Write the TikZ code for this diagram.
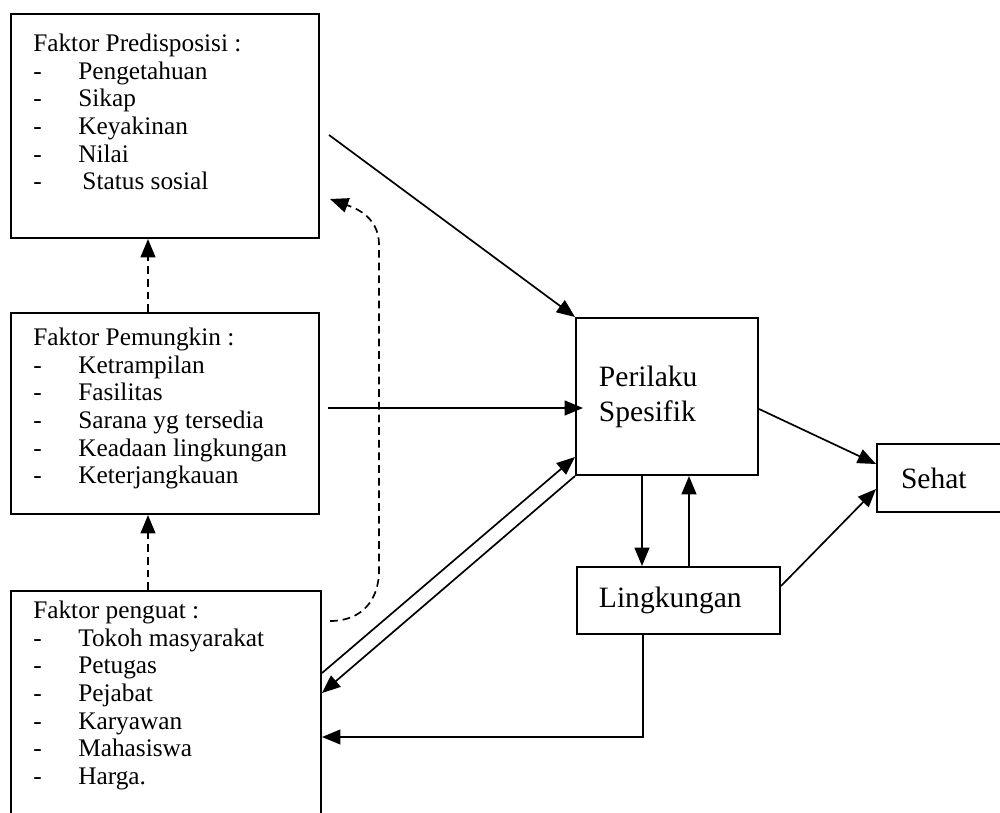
\documentclass[tikz,border=0pt]{standalone}
\usepackage{fontspec}
\setmainfont{Liberation Serif}
\usetikzlibrary{arrows.meta, calc}

\newcommand{\itm}[1]{\makebox[1.125cm][l]{-}#1}

\begin{document}
\begin{tikzpicture}[x=0.025cm, y=-0.025cm,
        box/.style={draw, line width=1.4pt, rectangle, inner sep=0pt, anchor=north west},
        listtext/.style={inner sep=0pt, align=left, anchor=north west, font=\fontsize{18}{19.6}\selectfont},
        bigbox/.style={draw, line width=1.4pt, align=left, anchor=north west, inner ysep=0pt, font=\fontsize{21}{25}\selectfont},
        arr/.style={line width=1.2pt, -{Triangle[length=13pt, width=10.5pt]}},
        dasharr/.style={arr, dash pattern=on 5.5pt off 3.5pt}
    ]
        \clip (0,0) rectangle (1000,813);

        % Kotak faktor
        \node [box, minimum width=7.7cm, minimum height=5.6cm] (pred) at (10,13) {};
        \node [listtext] (predtxt) at ([shift={(23,21)}]pred.north west) {Faktor Predisposisi :\\
            \itm{Pengetahuan}\\ \itm{Sikap}\\ \itm{Keyakinan}\\ \itm{Nilai}\\ \itm{\,Status sosial}};

        \node [box, minimum width=7.7cm, minimum height=5.025cm] (pem) at (10,312) {};
        \node [listtext] (pemtxt) at ([shift={(23,16)}]pem.north west) {Faktor Pemungkin :\\
            \itm{Ketrampilan}\\ \itm{Fasilitas}\\ \itm{Sarana yg tersedia}\\ \itm{Keadaan lingkungan}\\ \itm{Keterjangkauan}};

        \node [box, minimum width=7.75cm, minimum height=6.5cm] (peng) at (10,590) {};
        \node [listtext] (pengtxt) at ([shift={(23,11)}]peng.north west) {Faktor penguat :\\
            \itm{Tokoh masyarakat}\\ \itm{Petugas}\\ \itm{Pejabat}\\ \itm{Karyawan}\\ \itm{Mahasiswa}\\ \itm{Harga.}};

        % Kotak kanan
        \node [bigbox, text width=3.4cm, inner xsep=0.575cm, minimum height=3.925cm] (perilaku) at (575,317) {Perilaku\\Spesifik};
        \node [bigbox, text width=3.975cm, inner xsep=0.55cm, minimum height=1.675cm] (lingk) at (576,566) {Lingkungan};
        \node [bigbox, text width=2cm, inner xsep=0.6cm, minimum height=1.7cm] (sehat) at (876,443) {Sehat};

        % Panah ke perilaku
        \draw[arr] ([shift={(9,9)}]pred.east) -- (perilaku.north west);
        \draw[arr] ([shift={(8,-5.5)}]pem.east) -- ([shift={(8,-5.5)}]pem.east -| perilaku.west);
        \draw[arr] ([shift={(0,83)}]peng.north east) -- ([shift={(0,-19)}]perilaku.south west);
        \draw[arr] (perilaku.south west) -- ([shift={(0,103)}]peng.north east);

        % Perilaku dan lingkungan
        \draw[arr] ([shift={(67,0)}]perilaku.south west) -- ([shift={(67,0)}]perilaku.south west |- lingk.north);
        \draw[arr] ([shift={(113,0)}]lingk.north west) -- ([shift={(113,0)}]lingk.north west |- perilaku.south);
        \draw[arr] ([shift={(67,0)}]lingk.south west) |- ([shift={(0,147)}]peng.north east);

        % Ke sehat
        \draw[arr] ([shift={(0,12.5)}]perilaku.east) -- ([shift={(0,-14)}]sehat.west);
        \draw[arr] ([shift={(0,-14.5)}]lingk.east) -- ([shift={(0,11)}]sehat.west);

        % Garis putus-putus
        \draw[dasharr] ([shift={(138,0)}]pem.north west) -- ([shift={(138,0)}]pred.south west);
        \draw[dasharr] ([shift={(138,0)}]peng.north west) -- ([shift={(138,0)}]pem.south west);
        \draw[dasharr] ([shift={(8,31)}]peng.north east) .. controls +(32,0) and +(0,30) .. ++(49,-51)
            -- ++(0,-325) .. controls +(0,-30) and +(22,8) .. ([shift={(10,-40)}]pred.south east);
    \end{tikzpicture}
\end{document}
